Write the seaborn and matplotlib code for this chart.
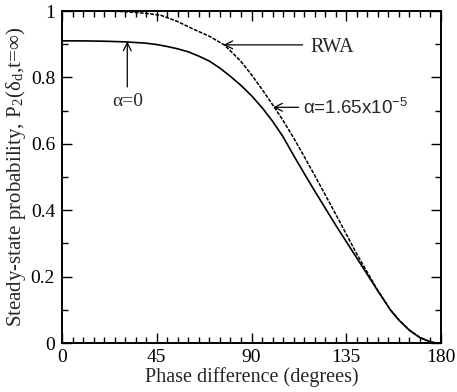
import numpy as np
import pandas as pd
import matplotlib
matplotlib.use("Agg")
import matplotlib.pyplot as plt
import seaborn as sns
from matplotlib.ticker import MultipleLocator

# phase difference (degrees) and steady-state probabilities
phase_alpha0 = [0, 10, 20, 30, 40, 45, 50, 55, 60, 65, 70, 75, 80, 85, 90, 95, 100,
                105, 110, 115, 120, 130, 140, 150, 156, 160, 165, 170, 175, 178, 180]
prob_alpha0 = [0.910, 0.910, 0.909, 0.907, 0.903, 0.899, 0.893, 0.886, 0.877, 0.864,
               0.849, 0.828, 0.803, 0.776, 0.745, 0.709, 0.668, 0.621, 0.565, 0.511,
               0.458, 0.355, 0.256, 0.157, 0.099, 0.069, 0.038, 0.016, 0.003, 0.0, 0.0]

phase_rwa = [0, 10, 20, 30, 40, 47, 55, 62.5, 70, 77, 80, 85, 90, 95, 100, 105, 110,
             115, 120, 130, 140, 150, 156, 160, 165, 170, 175, 178, 180]
prob_rwa = [1.0, 1.0, 1.0, 0.998, 0.993, 0.987, 0.968, 0.945, 0.924, 0.898, 0.880,
            0.848, 0.808, 0.764, 0.718, 0.670, 0.618, 0.562, 0.505, 0.388, 0.268,
            0.158, 0.100, 0.070, 0.039, 0.017, 0.003, 0.0, 0.0]

x_ticks = [0, 45, 90, 135, 180]
x_tick_labels = ["0", "45", "90", "135", "180"]
y_ticks = [0, 0.2, 0.4, 0.6, 0.8, 1.0]
y_tick_labels = ["0", "0.2", "0.4", "0.6", "0.8", "1"]

df_a0 = pd.DataFrame({"phase": phase_alpha0, "prob": prob_alpha0})
df_rwa = pd.DataFrame({"phase": phase_rwa, "prob": prob_rwa})

sns.set_theme(style="ticks")
plt.rcParams["font.family"] = ["Liberation Serif", "DejaVu Serif"]
plt.rcParams["mathtext.fontset"] = "stix"

fig = plt.figure(figsize=(4.57, 3.92), dpi=100)
ax = fig.add_axes([62 / 457, 1 - 343 / 392, (441 - 62) / 457, (343 - 11) / 392])

sns.lineplot(data=df_a0, x="phase", y="prob", ax=ax, color="black", lw=1.2,
             sort=False, estimator=None)
sns.lineplot(data=df_rwa, x="phase", y="prob", ax=ax, color="black", lw=1.1,
             sort=False, estimator=None, linestyle=(0, (2.5, 0.9)))

ax.set_xlim(0, 180)
ax.set_ylim(0, 1)
ax.set_xticks(x_ticks)
ax.set_xticklabels(x_tick_labels)
ax.set_yticks(y_ticks)
ax.set_yticklabels(y_tick_labels)
ax.xaxis.set_minor_locator(MultipleLocator(5))
ax.yaxis.set_minor_locator(MultipleLocator(0.1))
ax.tick_params(which="both", direction="in", top=True, right=True, width=1.0,
               colors="black", labelsize=14)
ax.tick_params(which="major", length=7)
ax.tick_params(which="minor", length=4)
ax.tick_params(axis="x", pad=4)
ax.tick_params(axis="y", pad=5)
for s in ax.spines.values():
    s.set_linewidth(1.4)
    s.set_color("black")
    s.set_visible(True)

ax.set_xlabel("Phase difference (degrees)", fontsize=14.5, labelpad=1)
ax.set_ylabel(r"Steady-state probability, P$_\mathregular{2}$(δ$_\mathregular{d}$,t=∞)",
              fontsize=15, labelpad=2)

arrow = dict(arrowstyle="->", lw=0.9, color="black", shrinkA=0, shrinkB=0,
             mutation_scale=14)
ax.annotate("", xy=(76.7, 0.898), xytext=(114.3, 0.898), arrowprops=arrow)
ax.text(118, 0.889, "RWA", fontsize=14.5, va="center", ha="left")
ax.annotate("", xy=(31, 0.908), xytext=(31, 0.771), arrowprops=arrow)
ax.text(31.4, 0.727, "α=0", fontsize=14, ha="center", va="center")
ax.annotate("", xy=(100.3, 0.71), xytext=(112.4, 0.71), arrowprops=arrow)
ax.text(114.3, 0.708, r"α=1.65x10$^{\mathregular{-5}}$", fontsize=13.5,
        ha="left", va="center", family=["Liberation Sans", "DejaVu Sans"])

fig.savefig("out.png", dpi=100, facecolor="white")
